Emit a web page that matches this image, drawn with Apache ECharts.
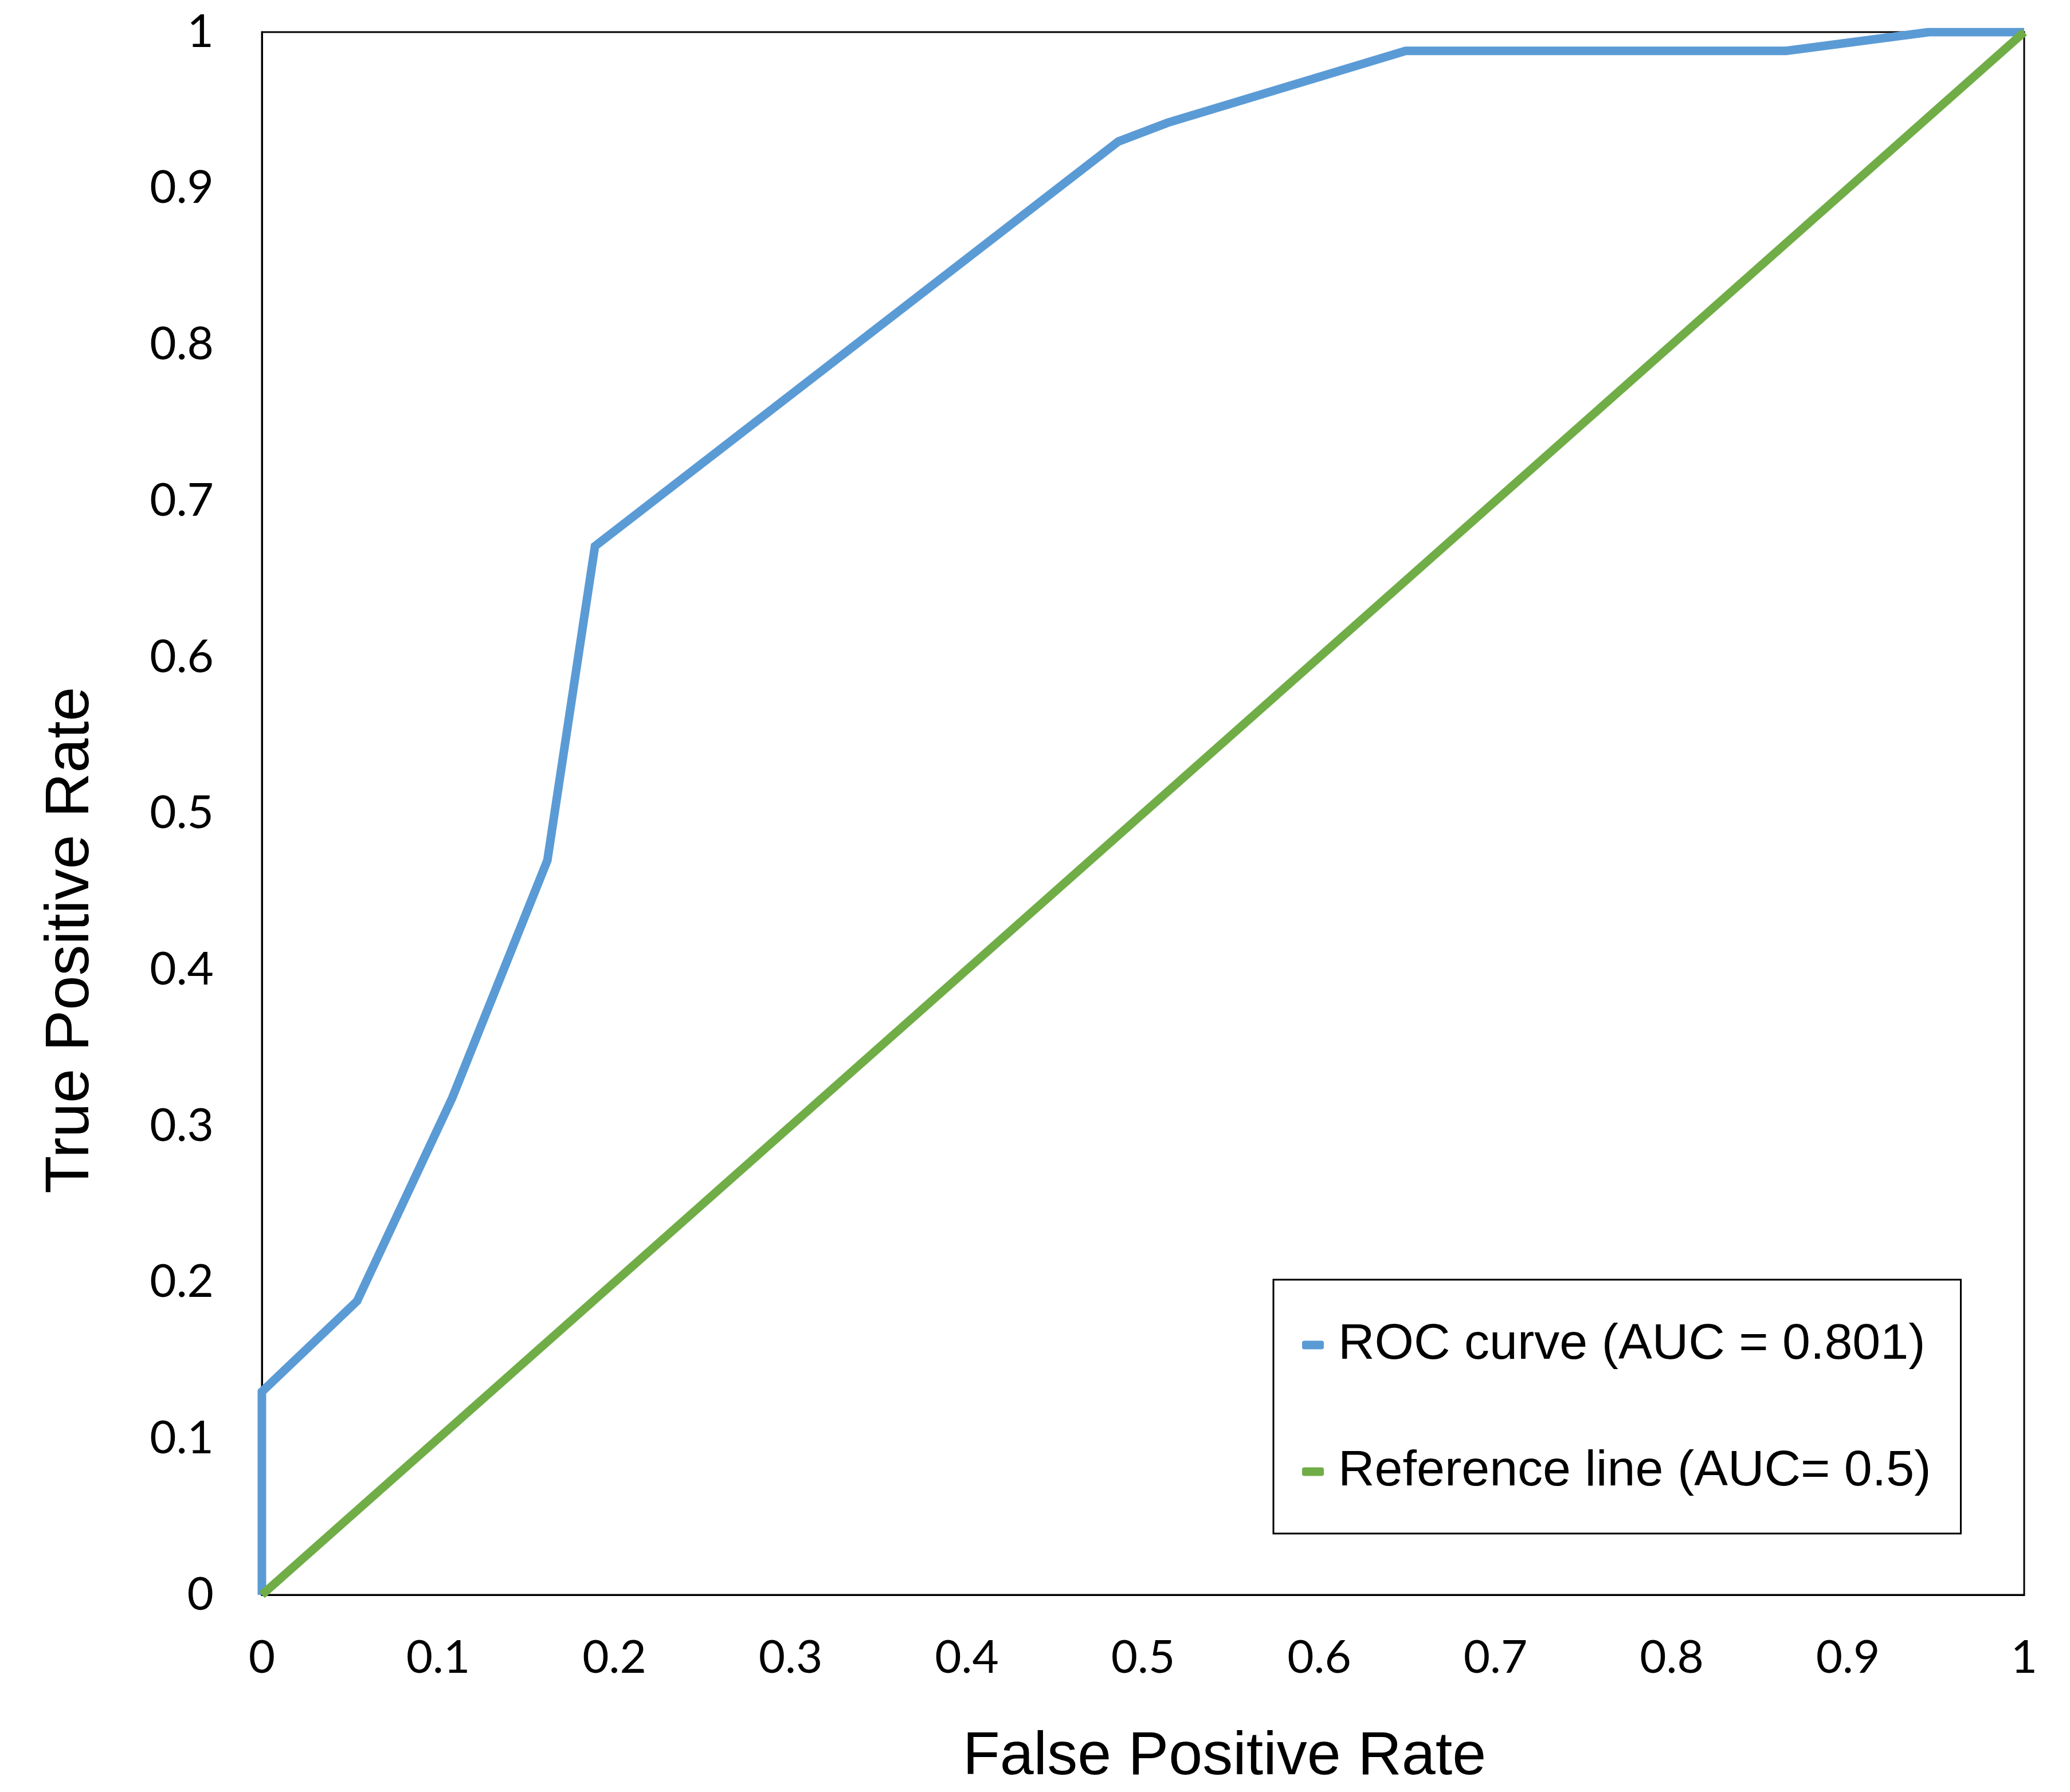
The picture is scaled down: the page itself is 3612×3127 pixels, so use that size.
<!DOCTYPE html>
<html>
<head>
<meta charset="utf-8">
<script src="https://cdn.jsdelivr.net/npm/echarts@6/dist/echarts.min.js"></script>
<style>
html,body{margin:0;padding:0;background:#fff;}
#chart{width:3612px;height:3127px;}
</style>
</head>
<body>
<div id="chart"></div>
<script>
// ---- data ----
var rocFPR = [0, 0, 0.054, 0.108, 0.162, 0.189, 0.486, 0.514, 0.649, 0.865, 0.946, 1];
var rocTPR = [0, 0.13, 0.188, 0.318, 0.47, 0.671, 0.93, 0.942, 0.988, 0.988, 1, 1];
var refFPR = [0, 1];
var refTPR = [0, 1];
var seriesNames = ['ROC curve (AUC = 0.801)', 'Reference line (AUC= 0.5)'];
var xTickLabels = ['0', '0.1', '0.2', '0.3', '0.4', '0.5', '0.6', '0.7', '0.8', '0.9', '1'];
var yTickLabels = ['0', '0.1', '0.2', '0.3', '0.4', '0.5', '0.6', '0.7', '0.8', '0.9', '1'];

function pairs(xs, ys) { return xs.map(function (x, i) { return [x, ys[i]]; }); }

var tickFont = 'Lato, "Open Sans", sans-serif';
var titleFont = '"Liberation Sans", Arial, sans-serif';

var chart = echarts.init(document.getElementById('chart'), null, { renderer: 'canvas' });
chart.setOption({
  backgroundColor: '#ffffff',
  animation: false,
  grid: {
    left: 457, right: 80, top: 56, bottom: 344,
    show: true, borderColor: '#000', borderWidth: 3, backgroundColor: 'transparent'
  },
  legend: {
    orient: 'vertical',
    left: 2222, top: 2233,
    padding: [64, 52, 58, 50],
    itemGap: 121,
    itemWidth: 38, itemHeight: 15,
    icon: 'roundRect',
    borderColor: '#000', borderWidth: 3,
    backgroundColor: '#fff',
    textStyle: { fontFamily: titleFont, fontSize: 88, lineHeight: 100, color: '#000', padding: [0, 0, 0, 20] },
    data: seriesNames
  },
  xAxis: {
    type: 'value', min: 0, max: 1, interval: 0.1,
    name: 'False Positive Rate', nameLocation: 'middle', nameGap: 231,
    nameTextStyle: { fontFamily: titleFont, fontSize: 106, color: '#000', padding: [0, 0, 0, 284] },
    axisLine: { show: true, lineStyle: { color: '#000', width: 3 } },
    axisTick: { show: false },
    splitLine: { show: false },
    axisLabel: {
      fontFamily: tickFont, fontSize: 80, color: '#000', margin: 70,
      formatter: function (v) { return xTickLabels[Math.round(v * 10)]; }
    }
  },
  yAxis: {
    type: 'value', min: 0, max: 1, interval: 0.1,
    name: 'True Positive Rate', nameLocation: 'middle', nameGap: 279,
    nameTextStyle: { fontFamily: titleFont, fontSize: 108, color: '#000', padding: [0, 442, 0, 0] },
    axisLine: { show: true, lineStyle: { color: '#000', width: 3 } },
    axisTick: { show: false },
    splitLine: { show: false },
    axisLabel: {
      fontFamily: tickFont, fontSize: 80, color: '#000', margin: 84,
      formatter: function (v) { return yTickLabels[Math.round(v * 10)]; }
    }
  },
  series: [
    {
      name: seriesNames[0], type: 'line', data: pairs(rocFPR, rocTPR),
      showSymbol: false, symbol: 'none',
      lineStyle: { color: '#5B9BD5', width: 15, join: 'miter' },
      itemStyle: { color: '#5B9BD5' }
    },
    {
      name: seriesNames[1], type: 'line', data: pairs(refFPR, refTPR),
      showSymbol: false, symbol: 'none',
      lineStyle: { color: '#70AD47', width: 15 },
      itemStyle: { color: '#70AD47' }
    }
  ]
});
</script>
</body>
</html>
